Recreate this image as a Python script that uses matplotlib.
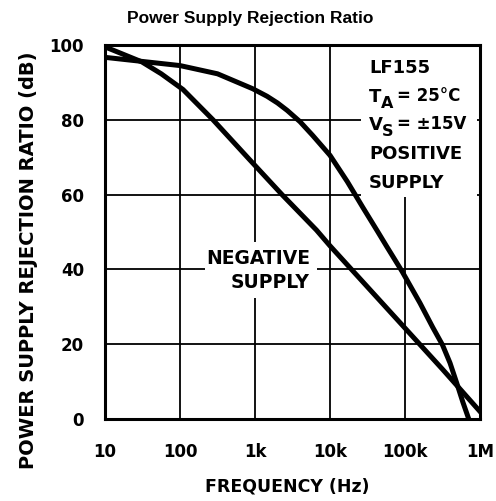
import matplotlib
matplotlib.use("Agg")
import matplotlib.pyplot as plt
from matplotlib.patches import Rectangle

# Data (log10 frequency, dB)
pos_logf = [1.0, 1.5, 2.0, 2.5, 2.97, 3.16, 3.3, 3.43, 3.6, 3.77, 4.0, 4.23, 4.44, 4.63,
            4.76, 4.96, 5.2, 5.37, 5.5, 5.6, 5.69, 5.77, 5.85]
pos_db = [96.7, 95.6, 94.5, 92.3, 88.3, 86.3, 84.5, 82.5, 79.5, 75.8, 70.5, 63.5, 56.5, 50.3,
          46.0, 39.5, 31.0, 24.5, 19.8, 15.0, 9.6, 4.6, 0.0]
neg_logf = [1.0, 1.49, 1.75, 2.04, 2.44, 2.93, 3.36, 3.82, 4.0, 4.5, 5.0, 5.5, 6.0]
neg_db = [99.5, 95.5, 92.3, 88.1, 80.0, 69.3, 60.0, 50.5, 46.3, 35.3, 24.3, 13.3, 2.0]

x_ticks = [10, 100, 1e3, 1e4, 1e5, 1e6]
x_labels = ["10", "100", "1k", "10k", "100k", "1M"]
y_ticks = [0, 20, 40, 60, 80, 100]

pos_f = [10 ** v for v in pos_logf]
neg_f = [10 ** v for v in neg_logf]

FONT = dict(family="DejaVu Sans", fontweight="bold")

fig = plt.figure(figsize=(4.96, 5.01), dpi=100)
ax = fig.add_axes([105 / 496, 1 - 419 / 501, 375 / 496, 374 / 501])
ax.set_xscale("log")
ax.set_xlim(10, 1e6)
ax.set_ylim(0, 100)
ax.minorticks_off()
ax.set_xticks(x_ticks)
ax.set_xticklabels(x_labels, fontsize=12, **FONT)
ax.set_yticks(y_ticks)
ax.set_yticklabels([str(v) for v in y_ticks], fontsize=12, **FONT)
ax.tick_params(axis="both", length=0)
ax.tick_params(axis="x", pad=17)
ax.tick_params(axis="y", pad=15)
ax.grid(True, color="black", linewidth=1.3, zorder=1)
for s in ax.spines.values():
    s.set_linewidth(2.2)
    s.set_zorder(5)

# white boxes masking grid behind labels
ax.add_patch(Rectangle((0.683, 0.594), 0.31, 0.40, transform=ax.transAxes,
                       facecolor="white", edgecolor="none", zorder=2))
ax.add_patch(Rectangle((0.267, 0.324), 0.298, 0.149, transform=ax.transAxes,
                       facecolor="white", edgecolor="none", zorder=2))

ax.plot(pos_f, pos_db, color="black", linewidth=3.6, zorder=4, solid_joinstyle="round")
ax.plot(neg_f, neg_db, color="black", linewidth=3.6, zorder=4, solid_joinstyle="round")

tk = dict(transform=ax.transAxes, fontsize=13, va="center", ha="left", zorder=6, **FONT)
def ay(py):
    return (419 - py) / 374
def ax_(px):
    return (px - 105) / 375
x0 = ax_(369)
ax.text(x0, ay(68), "LF155", **tk)
ax.text(x0, ay(97), "T", **tk)
ax.text(ax_(381), ay(104), "A", **{**tk, "fontsize": 11.5})
ax.text(ax_(397), ay(96), "= 25°C", **{**tk, "fontsize": 12})
ax.text(x0, ay(125), "V", **tk)
ax.text(ax_(382), ay(132), "S", **{**tk, "fontsize": 11.5})
ax.text(ax_(397), ay(124), "= ±15V", **{**tk, "fontsize": 12})
ax.text(x0, ay(154), "POSITIVE", **tk)
ax.text(x0, ay(183), "SUPPLY", **tk)

tn = dict(transform=ax.transAxes, fontsize=13.5, va="center", ha="right", zorder=6, **FONT)
ax.text(ax_(310), ay(258), "NEGATIVE", **tn)
ax.text(ax_(310), ay(282), "SUPPLY", **tn)

ax.set_xlabel("FREQUENCY (Hz)", fontsize=12.5, **FONT)
ax.xaxis.set_label_coords(ax_(287), ay(487))
ax.xaxis.label.set_va("center")
ax.set_ylabel("POWER SUPPLY REJECTION RATIO (dB)", fontsize=14, **FONT)
ax.yaxis.set_label_coords(ax_(29), ay(260))
ax.yaxis.label.set_va("center")
fig.text(250 / 496, 1 - 18 / 501, "Power Supply Rejection Ratio", ha="center", va="center",
         fontsize=12.5, fontweight="bold", family="Liberation Sans")

fig.savefig("out.png", dpi=100)
